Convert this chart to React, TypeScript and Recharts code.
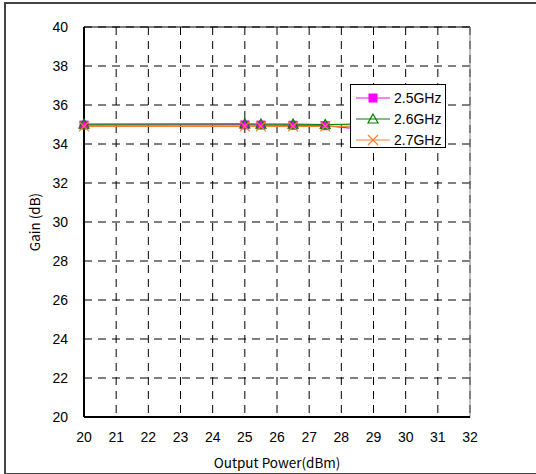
import { CartesianGrid, Line, LineChart, ReferenceLine, XAxis, YAxis } from 'recharts';

const POWER = [20, 25, 25.5, 26.5, 27.5, 28.5];
const GAIN_25 = [34.97, 34.98, 34.97, 34.96, 34.94, 34.78];
const GAIN_26 = [35.02, 35.03, 35.02, 35.02, 35.0, 35.02];
const GAIN_27 = [34.9, 34.9, 34.9, 34.9, 34.9, 34.92];
const X_TICKS = [20, 21, 22, 23, 24, 25, 26, 27, 28, 29, 30, 31, 32];
const Y_TICKS = [20, 22, 24, 26, 28, 30, 32, 34, 36, 38, 40];

const SERIES = [
  { key: 'g25', name: '2.5GHz', color: '#ff00ff', marker: 'square' },
  { key: 'g26', name: '2.6GHz', color: '#008000', marker: 'triangle' },
  { key: 'g27', name: '2.7GHz', color: '#ff7f2a', marker: 'cross' },
];

const data = POWER.map((p, i) => ({ p, g25: GAIN_25[i], g26: GAIN_26[i], g27: GAIN_27[i] }));

function Marker({ cx, cy, type, color }: { cx: number; cy: number; type: string; color: string }) {
  if (cx == null || cy == null) return null;
  if (type === 'square') return <rect x={cx - 4.5} y={cy - 4.5} width={9} height={9} fill={color} />;
  if (type === 'triangle')
    return <polygon points={`${cx},${cy - 5} ${cx + 5},${cy + 4} ${cx - 5},${cy + 4}`} fill="none" stroke={color} strokeWidth={1.2} />;
  return (
    <g stroke={color} strokeWidth={1.2}>
      <line x1={cx - 5} y1={cy - 5} x2={cx + 5} y2={cy + 5} />
      <line x1={cx - 5} y1={cy + 5} x2={cx + 5} y2={cy - 5} />
    </g>
  );
}

function LegendBox() {
  return (
    <div style={{ position: 'absolute', left: 350, top: 84, width: 96, height: 64, background: '#fff', border: '1px solid #000', padding: '2px 0 0 4px', boxSizing: 'border-box' }}>
      {SERIES.map((s) => (
        <div key={s.key} style={{ display: 'flex', alignItems: 'center', height: 21 }}>
          <svg width={36} height={14}>
            <line x1={1} y1={7} x2={35} y2={7} stroke={s.color} strokeWidth={1.2} />
            <Marker cx={18} cy={7} type={s.marker} color={s.color} />
          </svg>
          <span style={{ fontFamily: 'Liberation Sans, Arial, sans-serif', fontSize: 14, marginLeft: 3, color: '#000' }}>{s.name}</span>
        </div>
      ))}
    </div>
  );
}

export default function App() {
  return (
    <div style={{ position: 'absolute', left: 0, top: 0, width: 536, height: 474, overflow: 'hidden', background: '#fff' }}>
      <div style={{ position: 'absolute', left: 4, top: 2, width: 540, height: 469, border: '2px solid #444' }} />
      <div style={{ position: 'absolute', left: 0, top: 0 }}>
        <LineChart width={536} height={474} data={data} margin={{ top: 27, right: 66, bottom: 0, left: 0 }}>
          <CartesianGrid stroke="#000" strokeDasharray="8 6" />
          <ReferenceLine y={40} stroke="#000" />
          <ReferenceLine x={32} stroke="#808080" />
          <XAxis
            dataKey="p"
            type="number"
            domain={[20, 32]}
            ticks={X_TICKS}
            height={57}
            tickLine={false}
            tickSize={0}
            tickMargin={15}
            axisLine={{ stroke: '#000', strokeWidth: 2 }}
            tick={{ fill: '#000', fontSize: 14, fontFamily: 'Liberation Sans, Arial, sans-serif' }}
            label={{ value: 'Output Power(dBm)', position: 'insideBottom', offset: 6, fill: '#000', fontSize: 13.5, fontFamily: 'Noto Sans CJK JP, sans-serif' }}
          />
          <YAxis
            type="number"
            domain={[20, 40]}
            ticks={Y_TICKS}
            width={84}
            tickLine={false}
            tickSize={0}
            tickMargin={16}
            axisLine={{ stroke: '#000', strokeWidth: 2 }}
            tick={{ fill: '#000', fontSize: 14, fontFamily: 'Liberation Sans, Arial, sans-serif' }}
            label={{ value: 'Gain (dB)', angle: -90, position: 'insideLeft', dx: 30, fill: '#000', fontSize: 13.5, fontFamily: 'Noto Sans CJK JP, sans-serif', style: { textAnchor: 'middle' } }}
          />
          {SERIES.map((s) => (
            <Line
              key={s.key}
              dataKey={s.key}
              name={s.name}
              stroke={s.color}
              strokeWidth={1.2}
              isAnimationActive={false}
              dot={(props: any) => <Marker key={`${s.key}-${props.index}`} cx={props.cx} cy={props.cy} type={s.marker} color={s.color} />}
            />
          ))}
        </LineChart>
      </div>
      <LegendBox />
    </div>
  );
}
